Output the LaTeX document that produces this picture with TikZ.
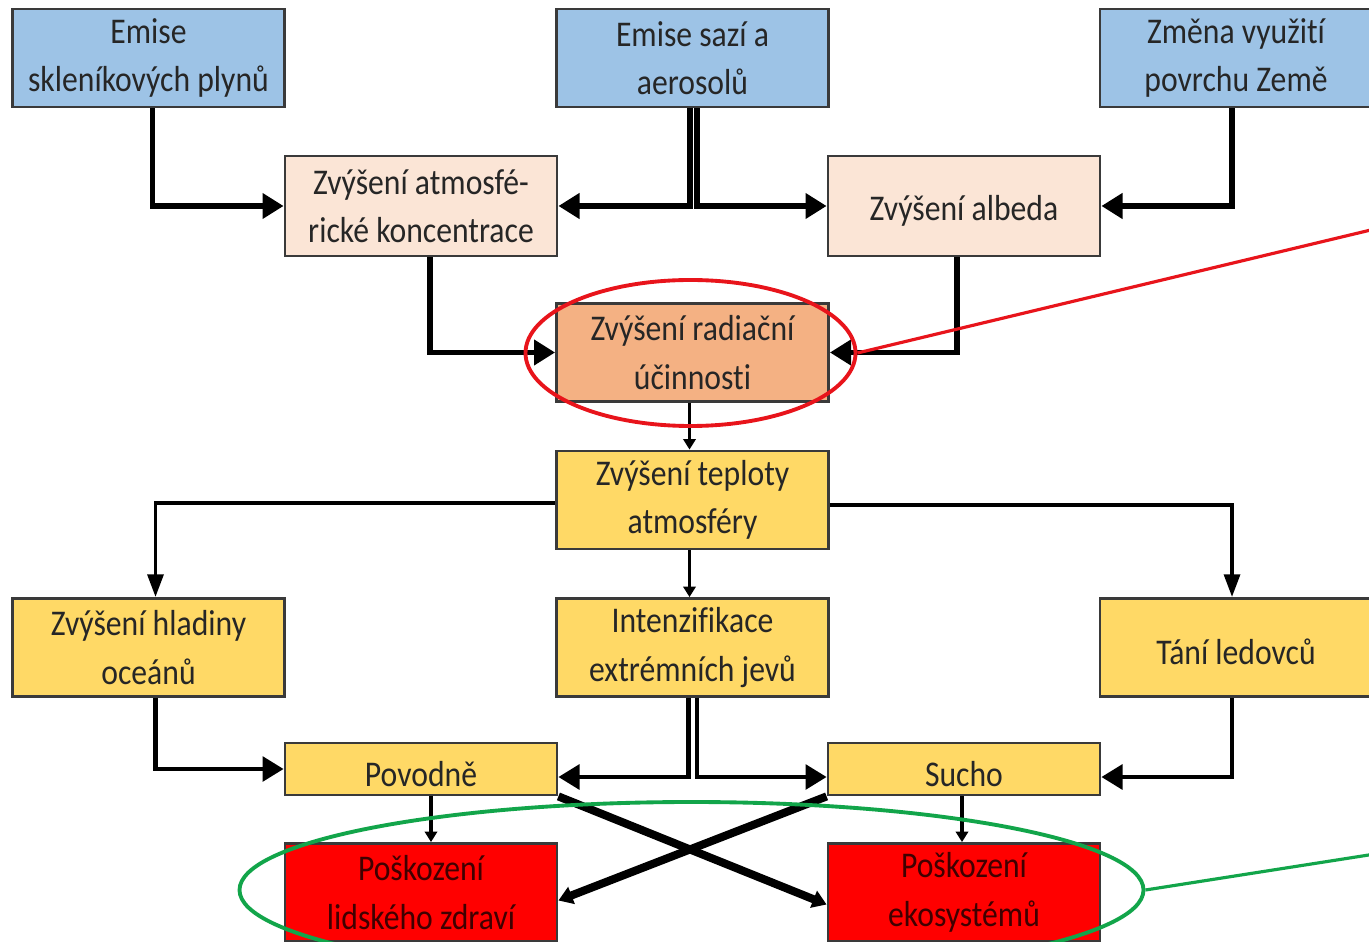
\documentclass[tikz,border=0pt]{standalone}
\usepackage{fontspec}
\setmainfont[FakeStretch=0.875,Ligatures=NoCommon]{Carlito}
\usetikzlibrary{arrows.meta,shapes.geometric}

\definecolor{causeblue}{HTML}{9DC3E6}
\definecolor{peach}{HTML}{FBE5D6}
\definecolor{forcing}{HTML}{F4B183}
\definecolor{impact}{HTML}{FFD966}
\definecolor{damage}{HTML}{FF0000}
\definecolor{boxline}{HTML}{3A3A3A}
\definecolor{markred}{HTML}{E8141B}
\definecolor{markgreen}{HTML}{12A54A}

\tikzset{%
  box/.style={draw=boxline,line width=0.8pt,minimum width=2.72cm,
    minimum height=0.98cm,inner sep=0pt,align=center,text=black!85,
    font=\fontsize{10.3pt}{13.8pt}\selectfont,
    execute at begin node={\rule{0pt}{9.8pt}}}, % same first line in every box
  cause/.style={box,fill=causeblue},
  step1/.style={box,fill=peach},
  forcingbox/.style={box,fill=forcing},
  impactbox/.style={box,fill=impact},
  damagebox/.style={box,fill=damage,text=black!75!red},
  flow/.style={line width=1.5pt,-{Triangle[length=6pt,width=7pt]}},
  thinflow/.style={line width=0.9pt,-{Triangle[length=3pt,width=3.5pt]}},
  branch/.style={line width=1.1pt,-{Triangle[length=6.5pt,width=4.5pt]}},
  cross/.style={line width=2.3pt,-{Triangle[length=4pt,width=5pt]}},
  highlight/.style={draw,ellipse,line width=1.1pt,inner sep=0pt}
}

\begin{document}
\begin{tikzpicture}

%% frame
\useasboundingbox (0,0) rectangle (13.69,-9.42);
\clip (0,0) rectangle (13.69,-9.42);
\fill[white] (0,0) rectangle (13.69,-9.42);

%% sources
\node[cause] (ghg) at (1.485,-0.58) {Emise\\skleníkových plynů};
\node[cause] (soot) at (6.925,-0.58) {Emise sazí a\\aerosolů};
\node[cause] (land) at (12.36,-0.58) {Změna využití\\povrchu Země};

%% first effects
\node[step1,minimum height=1.0cm] (conc) at (4.21,-2.06) {Zvýšení atmosfé-\\rické koncentrace};
\node[step1,minimum height=1.0cm] (albedo) at (9.64,-2.06) {Zvýšení albeda};
\node[forcingbox] (rad) at (6.925,-3.525) {Zvýšení radiační\\účinnosti};
\node[impactbox] (temp) at (6.925,-5.0) {Zvýšení teploty\\atmosféry};

%% consequences
\node[impactbox] (sea) at (1.485,-6.475) {Zvýšení hladiny\\oceánů};
\node[impactbox] (extr) at (6.925,-6.475) {Intenzifikace\\extrémních jevů};
\node[impactbox] (ice) at (12.36,-6.475) {Tání ledovců};
\node[impactbox,minimum height=0.52cm] (flood) at (4.21,-7.69) {Povodně};
\node[impactbox,minimum height=0.52cm] (drought) at (9.64,-7.69) {Sucho};
\node[damagebox] (health) at (4.21,-8.925) {Poškození\\lidského zdraví};
\node[damagebox] (eco) at (9.64,-8.925) {Poškození\\ekosystémů};

%% upper arrows
\draw[flow] ([xshift=0.04cm]ghg.south) |- (conc.west);
\draw[flow] ([xshift=-0.025cm]soot.south) |- (conc.east);
\draw[flow] ([xshift=0.045cm]soot.south) |- (albedo.west);
\draw[flow] ([xshift=-0.04cm]land.south) |- (albedo.east);
\draw[flow] ([xshift=0.09cm]conc.south) |- (rad.west);
\draw[flow] ([xshift=-0.07cm]albedo.south) |- (rad.east);
\draw[thinflow] ([xshift=-0.03cm]rad.south) -- ([xshift=-0.03cm]temp.north);

%% lower arrows
\draw[branch] ([yshift=-0.03cm]temp.west) -| ([xshift=0.07cm]sea.north);
\draw[branch] ([yshift=-0.05cm]temp.east) -| ([xshift=-0.04cm]ice.north);
\draw[thinflow] ([xshift=-0.03cm]temp.south) -- ([xshift=-0.03cm]extr.north);
\draw[flow,line width=1.2pt] ([xshift=0.07cm]sea.south) |- (flood.west);
\draw[flow,line width=1.2pt] ([xshift=-0.04cm]extr.south) |- ([yshift=-0.08cm]flood.east);
\draw[flow,line width=1.2pt] ([xshift=0.045cm]extr.south) |- ([yshift=-0.08cm]drought.west);
\draw[flow,line width=1.2pt] ([xshift=-0.04cm]ice.south) |- ([yshift=-0.08cm]drought.east);
\draw[thinflow] ([xshift=0.1cm]flood.south) -- ([xshift=0.1cm]health.north);
\draw[thinflow] ([xshift=-0.02cm]drought.south) -- ([xshift=-0.02cm]eco.north);
\draw[cross] (flood.south east) -- ([yshift=-0.12cm]eco.west);
\draw[cross] (drought.south west) -- ([yshift=-0.08cm]health.east);

%% highlights
\node[highlight,draw=markred,minimum width=3.3cm,minimum height=1.46cm] (hlrad) at (6.905,-3.53) {};
\node[highlight,draw=markgreen,minimum width=9.04cm,minimum height=1.76cm] (hldamage) at (6.915,-8.9) {};
\coordinate (notered) at (13.75,-2.29);
\coordinate (notegreen) at (13.75,-8.54);
\draw[markred,line width=0.9pt] (hlrad.east) -- (notered);
\draw[markgreen,line width=0.9pt] (hldamage.east) -- (notegreen);

\end{tikzpicture}
\end{document}
